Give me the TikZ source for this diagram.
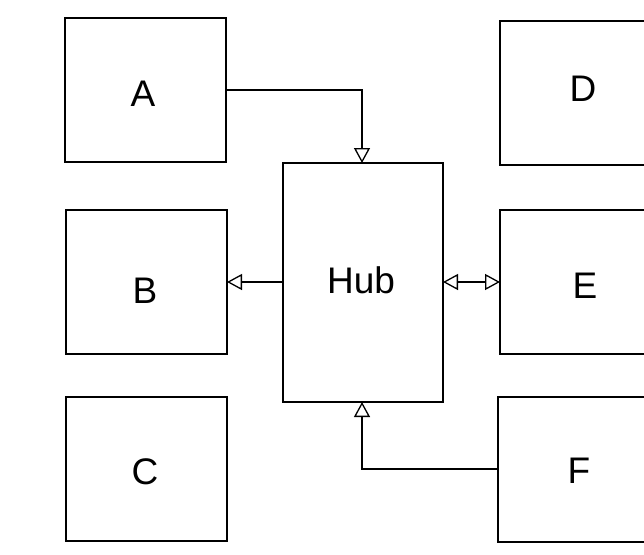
\documentclass[tikz,border=0pt]{standalone}
\usepackage{fontspec}
\setmainfont{Liberation Sans}
\usetikzlibrary{arrows.meta}
\begin{document}
\begin{tikzpicture}[x=1pt,y=-1pt,
  box/.style={draw, line width=1.3pt, fill=white},
  lbl/.style={font=\fontsize{37}{44}\selectfont, inner sep=0pt},
  conn/.style={line width=1.3pt, -{Triangle[open, length=15pt, width=16pt, line width=1.3pt]}},
  bconn/.style={line width=1.3pt, {Triangle[open, length=15pt, width=16pt, line width=1.3pt]}-{Triangle[open, length=15pt, width=16pt, line width=1.3pt]}}]
\useasboundingbox (0,0) rectangle (644,554);
\begin{scope}
\clip (0,0) rectangle (644,554);
\fill[white] (0,0) rectangle (644,554);
\draw[box] (65,18) rectangle (226,162);
\node[lbl] (A) at (143,94) {A};
\draw[box] (66,210) rectangle (227,354);
\node[lbl] (B) at (145,291) {B};
\draw[box] (66,397) rectangle (227,541);
\node[lbl] (C) at (145,472) {C};
\draw[box] (283,163) rectangle (443,402);
\node[lbl] (Hub) at (361,280) {Hub};
\draw[box] (500,21) rectangle (660,165);
\node[lbl] (D) at (583,89) {D};
\draw[box] (500,210) rectangle (660,354);
\node[lbl] (E) at (585,286) {E};
\draw[box] (498,397) rectangle (660,542);
\node[lbl] (F) at (579,471) {F};
\coordinate (Aout) at (226,90);
\coordinate (HubT) at (362,163);
\coordinate (HubL) at (283,282);
\coordinate (Bin) at (227,282);
\coordinate (HubR) at (443,282);
\coordinate (Ein) at (500,282);
\coordinate (Fout) at (498,469);
\coordinate (HubB) at (362,402);
\draw[conn] (Aout) -| (HubT);
\draw[conn] (HubL) -- (Bin);
\draw[bconn] (HubR) -- (Ein);
\draw[conn] (Fout) -| (HubB);
\end{scope}
\end{tikzpicture}
\end{document}
